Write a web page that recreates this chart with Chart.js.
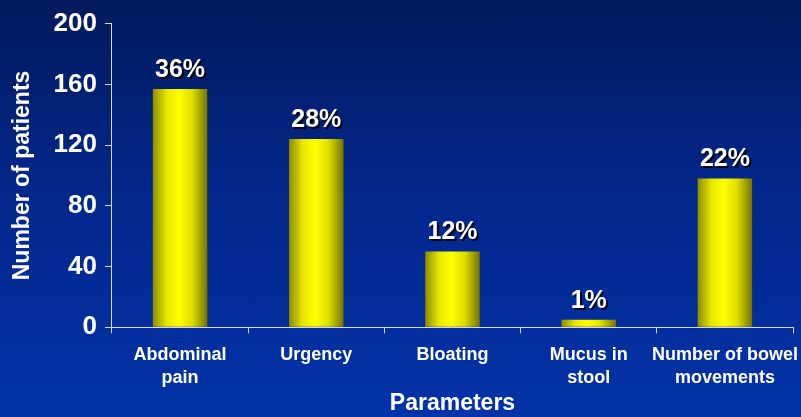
<!DOCTYPE html>
<html>
<head>
<meta charset="utf-8">
<script src="https://cdn.jsdelivr.net/npm/chart.js@4.4.1/dist/chart.umd.min.js"></script>
<style>
    html, body { margin: 0; padding: 0; }
    body {
        width: 801px; height: 417px; overflow: hidden;
        background: linear-gradient(to bottom, #021a5c 0%, #03268a 45%, #0333a8 100%);
    }
    #chart { display: block; }
</style>
</head>
<body>
<canvas id="chart" width="801" height="417"></canvas>
<script>
    // Chart data
    var categories = [['Abdominal', 'pain'], 'Urgency', 'Bloating', ['Mucus in', 'stool'], ['Number of bowel', 'movements']];
    var patients = [157, 124, 50, 5, 98];
    var percentLabels = ['36%', '28%', '12%', '1%', '22%'];
    var yTicks = [0, 40, 80, 120, 160, 200];

    var FONT = 'Liberation Sans, Arial, sans-serif';

    // Cylinder-like shading across each bar (each bar gets its own options copy).
    var barShading = {
        id: 'barShading',
        beforeDatasetsDraw(chart) {
            var ctx = chart.ctx;
            chart.getDatasetMeta(0).data.forEach(function (bar) {
                var left = bar.x - bar.width / 2;
                var g = ctx.createLinearGradient(left, 0, left + bar.width, 0);
                g.addColorStop(0, '#8c8c00');
                g.addColorStop(0.25, '#e6e600');
                g.addColorStop(0.48, '#ffff00');
                g.addColorStop(0.72, '#dede00');
                g.addColorStop(1, '#747400');
                bar.options = Object.assign({}, bar.options, { backgroundColor: g });
            });
        }
    };

    // Percentages above the bars.
    var percentTags = {
        id: 'percentTags',
        afterDatasetsDraw(chart) {
            var ctx = chart.ctx;
            ctx.save();
            ctx.font = 'bold 25px ' + FONT;
            ctx.textAlign = 'center';
            ctx.textBaseline = 'alphabetic';
            chart.getDatasetMeta(0).data.forEach(function (bar, i) {
                ctx.fillStyle = 'rgba(0,0,0,0.85)';
                ctx.fillText(percentLabels[i], bar.x + 2, bar.y - 10);
                ctx.fillStyle = '#ffffff';
                ctx.fillText(percentLabels[i], bar.x, bar.y - 12);
            });
            ctx.restore();
        }
    };

    new Chart(document.getElementById('chart'), {
        type: 'bar',
        data: {
            labels: categories,
            datasets: [{
                data: patients,
                backgroundColor: '#ffff00',
                borderWidth: 0,
                barPercentage: 0.4,
                categoryPercentage: 1
            }]
        },
        options: {
            responsive: false,
            animation: false,
            layout: { padding: { top: 11, right: 8, left: 9, bottom: 0 } },
            plugins: {
                legend: { display: false },
                tooltip: { enabled: false }
            },
            scales: {
                x: {
                    // the last label may run to the canvas edge, as in the original
                    afterFit(scale) { scale.paddingLeft = 0; scale.paddingRight = 0; },
                    grid: { display: true, drawOnChartArea: false, color: '#d8d8e8', tickLength: 6, offset: true },
                    border: { display: true, color: '#d8d8e8', width: 1 },
                    ticks: { color: '#ffffff', font: { family: FONT, size: 18, weight: 'bold', lineHeight: 1.28 }, padding: 10, maxRotation: 0, autoSkip: false },
                    title: { display: true, text: 'Parameters', color: '#ffffff', font: { family: FONT, size: 23, weight: 'bold' }, padding: { top: -10, bottom: 0 } }
                },
                y: {
                    min: 0,
                    max: 200,
                    afterBuildTicks(axis) { axis.ticks = yTicks.map(function (v) { return { value: v }; }); },
                    grid: { display: true, drawOnChartArea: false, color: '#d8d8e8', tickLength: 7 },
                    border: { display: true, color: '#d8d8e8', width: 1 },
                    ticks: { color: '#ffffff', font: { family: FONT, size: 26, weight: 'bold' }, padding: 8 },
                    title: { display: true, text: 'Number of patients', color: '#ffffff', font: { family: FONT, size: 23, weight: 'bold' }, padding: { top: 0, bottom: 9 } }
                }
            }
        },
        plugins: [barShading, percentTags]
    });
</script>
</body>
</html>
